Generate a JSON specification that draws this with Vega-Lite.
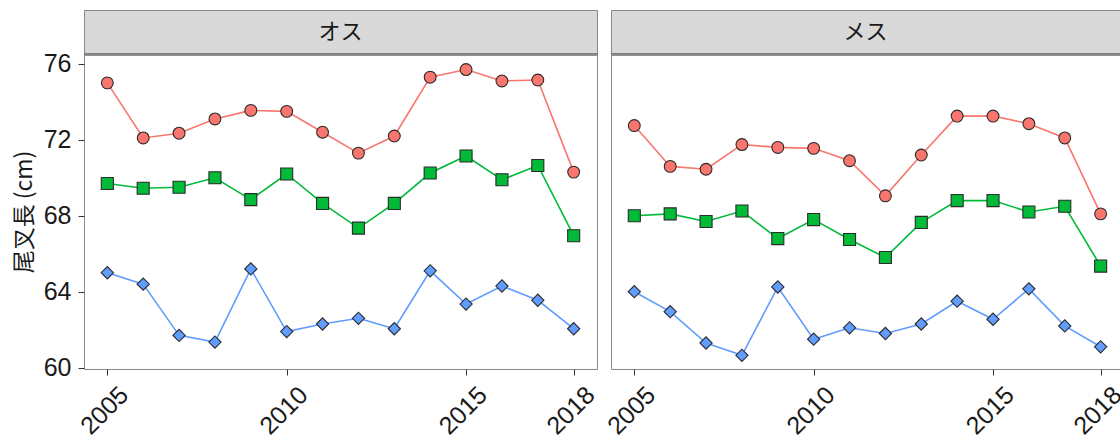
{
  "$schema": "https://vega.github.io/schema/vega-lite/v6.json",
  "padding": {"left": 12, "top": 9, "right": 0, "bottom": 0},
  "background": "white",
  "datasets": {
    "fl": [
      {"sex": "オス", "year": 2005, "stat": "upper", "value": 75.0},
      {"sex": "オス", "year": 2006, "stat": "upper", "value": 72.1},
      {"sex": "オス", "year": 2007, "stat": "upper", "value": 72.35},
      {"sex": "オス", "year": 2008, "stat": "upper", "value": 73.1},
      {"sex": "オス", "year": 2009, "stat": "upper", "value": 73.55},
      {"sex": "オス", "year": 2010, "stat": "upper", "value": 73.5},
      {"sex": "オス", "year": 2011, "stat": "upper", "value": 72.4},
      {"sex": "オス", "year": 2012, "stat": "upper", "value": 71.3},
      {"sex": "オス", "year": 2013, "stat": "upper", "value": 72.2},
      {"sex": "オス", "year": 2014, "stat": "upper", "value": 75.3},
      {"sex": "オス", "year": 2015, "stat": "upper", "value": 75.7},
      {"sex": "オス", "year": 2016, "stat": "upper", "value": 75.1},
      {"sex": "オス", "year": 2017, "stat": "upper", "value": 75.15},
      {"sex": "オス", "year": 2018, "stat": "upper", "value": 70.3},
      {"sex": "オス", "year": 2005, "stat": "middle", "value": 69.7},
      {"sex": "オス", "year": 2006, "stat": "middle", "value": 69.45},
      {"sex": "オス", "year": 2007, "stat": "middle", "value": 69.5},
      {"sex": "オス", "year": 2008, "stat": "middle", "value": 70.0},
      {"sex": "オス", "year": 2009, "stat": "middle", "value": 68.85},
      {"sex": "オス", "year": 2010, "stat": "middle", "value": 70.2},
      {"sex": "オス", "year": 2011, "stat": "middle", "value": 68.65},
      {"sex": "オス", "year": 2012, "stat": "middle", "value": 67.35},
      {"sex": "オス", "year": 2013, "stat": "middle", "value": 68.65},
      {"sex": "オス", "year": 2014, "stat": "middle", "value": 70.25},
      {"sex": "オス", "year": 2015, "stat": "middle", "value": 71.15},
      {"sex": "オス", "year": 2016, "stat": "middle", "value": 69.9},
      {"sex": "オス", "year": 2017, "stat": "middle", "value": 70.65},
      {"sex": "オス", "year": 2018, "stat": "middle", "value": 66.95},
      {"sex": "オス", "year": 2005, "stat": "lower", "value": 65.0},
      {"sex": "オス", "year": 2006, "stat": "lower", "value": 64.4},
      {"sex": "オス", "year": 2007, "stat": "lower", "value": 61.7},
      {"sex": "オス", "year": 2008, "stat": "lower", "value": 61.35},
      {"sex": "オス", "year": 2009, "stat": "lower", "value": 65.2},
      {"sex": "オス", "year": 2010, "stat": "lower", "value": 61.9},
      {"sex": "オス", "year": 2011, "stat": "lower", "value": 62.3},
      {"sex": "オス", "year": 2012, "stat": "lower", "value": 62.6},
      {"sex": "オス", "year": 2013, "stat": "lower", "value": 62.05},
      {"sex": "オス", "year": 2014, "stat": "lower", "value": 65.1},
      {"sex": "オス", "year": 2015, "stat": "lower", "value": 63.35},
      {"sex": "オス", "year": 2016, "stat": "lower", "value": 64.3},
      {"sex": "オス", "year": 2017, "stat": "lower", "value": 63.55},
      {"sex": "オス", "year": 2018, "stat": "lower", "value": 62.05},
      {"sex": "メス", "year": 2005, "stat": "upper", "value": 72.75},
      {"sex": "メス", "year": 2006, "stat": "upper", "value": 70.6},
      {"sex": "メス", "year": 2007, "stat": "upper", "value": 70.45},
      {"sex": "メス", "year": 2008, "stat": "upper", "value": 71.75},
      {"sex": "メス", "year": 2009, "stat": "upper", "value": 71.6},
      {"sex": "メス", "year": 2010, "stat": "upper", "value": 71.55},
      {"sex": "メス", "year": 2011, "stat": "upper", "value": 70.9},
      {"sex": "メス", "year": 2012, "stat": "upper", "value": 69.05},
      {"sex": "メス", "year": 2013, "stat": "upper", "value": 71.2},
      {"sex": "メス", "year": 2014, "stat": "upper", "value": 73.25},
      {"sex": "メス", "year": 2015, "stat": "upper", "value": 73.25},
      {"sex": "メス", "year": 2016, "stat": "upper", "value": 72.85},
      {"sex": "メス", "year": 2017, "stat": "upper", "value": 72.1},
      {"sex": "メス", "year": 2018, "stat": "upper", "value": 68.1},
      {"sex": "メス", "year": 2005, "stat": "middle", "value": 68.0},
      {"sex": "メス", "year": 2006, "stat": "middle", "value": 68.1},
      {"sex": "メス", "year": 2007, "stat": "middle", "value": 67.7},
      {"sex": "メス", "year": 2008, "stat": "middle", "value": 68.25},
      {"sex": "メス", "year": 2009, "stat": "middle", "value": 66.8},
      {"sex": "メス", "year": 2010, "stat": "middle", "value": 67.8},
      {"sex": "メス", "year": 2011, "stat": "middle", "value": 66.75},
      {"sex": "メス", "year": 2012, "stat": "middle", "value": 65.8},
      {"sex": "メス", "year": 2013, "stat": "middle", "value": 67.65},
      {"sex": "メス", "year": 2014, "stat": "middle", "value": 68.8},
      {"sex": "メス", "year": 2015, "stat": "middle", "value": 68.8},
      {"sex": "メス", "year": 2016, "stat": "middle", "value": 68.2},
      {"sex": "メス", "year": 2017, "stat": "middle", "value": 68.5},
      {"sex": "メス", "year": 2018, "stat": "middle", "value": 65.35},
      {"sex": "メス", "year": 2005, "stat": "lower", "value": 64.0},
      {"sex": "メス", "year": 2006, "stat": "lower", "value": 62.95},
      {"sex": "メス", "year": 2007, "stat": "lower", "value": 61.3},
      {"sex": "メス", "year": 2008, "stat": "lower", "value": 60.65},
      {"sex": "メス", "year": 2009, "stat": "lower", "value": 64.25},
      {"sex": "メス", "year": 2010, "stat": "lower", "value": 61.5},
      {"sex": "メス", "year": 2011, "stat": "lower", "value": 62.1},
      {"sex": "メス", "year": 2012, "stat": "lower", "value": 61.8},
      {"sex": "メス", "year": 2013, "stat": "lower", "value": 62.3},
      {"sex": "メス", "year": 2014, "stat": "lower", "value": 63.5},
      {"sex": "メス", "year": 2015, "stat": "lower", "value": 62.55},
      {"sex": "メス", "year": 2016, "stat": "lower", "value": 64.15},
      {"sex": "メス", "year": 2017, "stat": "lower", "value": 62.2},
      {"sex": "メス", "year": 2018, "stat": "lower", "value": 61.1}
    ]
  },
  "hconcat": [
    {
      "spacing": 0,
      "bounds": "flush",
      "vconcat": [
        {
          "width": 513,
          "height": 44,
          "view": {"fill": "#d9d9d9", "stroke": "#8a8a8a"},
          "data": {"values": [{"label": "オス"}]},
          "mark": {"type": "text", "font": "Noto Sans CJK JP", "fontSize": 22, "color": "#1a1a1a"},
          "encoding": {
            "text": {"field": "label"},
            "x": {"datum": 0.5, "type": "quantitative", "scale": {"domain": [0, 1]},
                  "axis": {"title": null, "labels": false, "ticks": false, "domain": true, "domainColor": "#262626", "domainWidth": 2, "minExtent": 0, "maxExtent": 0}}
          }
        },
        {
          "width": 513,
          "height": 315,
          "view": {"stroke": "#8a8a8a"},
          "data": {"name": "fl"},
          "transform": [{"filter": "datum.sex === 'オス'"}],
          "encoding": {
            "x": {"field": "year", "type": "quantitative",
                  "scale": {"domain": [2004.35, 2018.65], "nice": false, "zero": false},
                  "axis": {"values": [2005, 2010, 2015, 2018], "format": "d", "title": null, "labelAngle": -45, "labelAlign": "right", "labelBaseline": "top", "labelPadding": 7, "labelOffset": 8}},
            "y": {"field": "value", "type": "quantitative",
                  "scale": {"domain": [59.93, 76.52], "nice": false, "zero": false},
                  "axis": {"values": [60, 64, 68, 72, 76], "title": "尾叉長 (cm)", "titlePadding": 7, "minExtent": 41, "maxExtent": 41, "labelPadding": 7}},
            "color": {"field": "stat", "type": "nominal", "legend": null,
                      "scale": {"domain": ["upper", "middle", "lower"], "range": ["#F8766D", "#00BA38", "#619CFF"]}}
          },
          "layer": [
            {"mark": {"type": "line", "strokeWidth": 1.6},
             "encoding": {"order": {"field": "year"}}},
            {"mark": {"type": "point", "filled": true, "opacity": 1, "stroke": "#2b2b2b", "strokeWidth": 1.1},
             "encoding": {
               "shape": {"field": "stat", "type": "nominal", "legend": null,
                         "scale": {"domain": ["upper", "middle", "lower"], "range": ["circle", "square", "diamond"]}},
               "size": {"field": "stat", "type": "nominal", "legend": null,
                        "scale": {"domain": ["upper", "middle", "lower"], "range": [140, 150, 290]}}
             }}
          ]
        }
      ],
      "resolve": {"scale": {"x": "independent", "y": "independent"}}
    },
    {
      "spacing": 0,
      "bounds": "flush",
      "vconcat": [
        {
          "width": 509,
          "height": 44,
          "view": {"fill": "#d9d9d9", "stroke": "#8a8a8a"},
          "data": {"values": [{"label": "メス"}]},
          "mark": {"type": "text", "font": "Noto Sans CJK JP", "fontSize": 22, "color": "#1a1a1a"},
          "encoding": {
            "text": {"field": "label"},
            "x": {"datum": 0.5, "type": "quantitative", "scale": {"domain": [0, 1]},
                  "axis": {"title": null, "labels": false, "ticks": false, "domain": true, "domainColor": "#262626", "domainWidth": 2, "minExtent": 0, "maxExtent": 0}}
          }
        },
        {
          "width": 509,
          "height": 315,
          "view": {"stroke": "#8a8a8a"},
          "data": {"name": "fl"},
          "transform": [{"filter": "datum.sex === 'メス'"}],
          "encoding": {
            "x": {"field": "year", "type": "quantitative",
                  "scale": {"domain": [2004.35, 2018.54], "nice": false, "zero": false},
                  "axis": {"values": [2005, 2010, 2015, 2018], "format": "d", "title": null, "labelAngle": -45, "labelAlign": "right", "labelBaseline": "top", "labelPadding": 7, "labelOffset": 8}},
            "y": {"field": "value", "type": "quantitative",
                  "scale": {"domain": [59.93, 76.52], "nice": false, "zero": false},
                  "axis": null},
            "color": {"field": "stat", "type": "nominal", "legend": null,
                      "scale": {"domain": ["upper", "middle", "lower"], "range": ["#F8766D", "#00BA38", "#619CFF"]}}
          },
          "layer": [
            {"mark": {"type": "line", "strokeWidth": 1.6},
             "encoding": {"order": {"field": "year"}}},
            {"mark": {"type": "point", "filled": true, "opacity": 1, "stroke": "#2b2b2b", "strokeWidth": 1.1},
             "encoding": {
               "shape": {"field": "stat", "type": "nominal", "legend": null,
                         "scale": {"domain": ["upper", "middle", "lower"], "range": ["circle", "square", "diamond"]}},
               "size": {"field": "stat", "type": "nominal", "legend": null,
                        "scale": {"domain": ["upper", "middle", "lower"], "range": [140, 150, 290]}}
             }}
          ]
        }
      ],
      "resolve": {"scale": {"x": "independent", "y": "independent"}}
    }
  ],
  "spacing": 2,
  "resolve": {"scale": {"x": "independent", "y": "independent"}},
  "config": {
    "axis": {
      "labelFont": "Liberation Sans",
      "labelFontSize": 25,
      "labelColor": "#1a1a1a",
      "tickColor": "#333333",
      "tickSize": 6,
      "domain": false,
      "grid": false,
      "titleFont": "Noto Sans CJK JP",
      "titleFontSize": 23,
      "titleFontWeight": "normal",
      "titleColor": "#1a1a1a"
    }
  }
}
